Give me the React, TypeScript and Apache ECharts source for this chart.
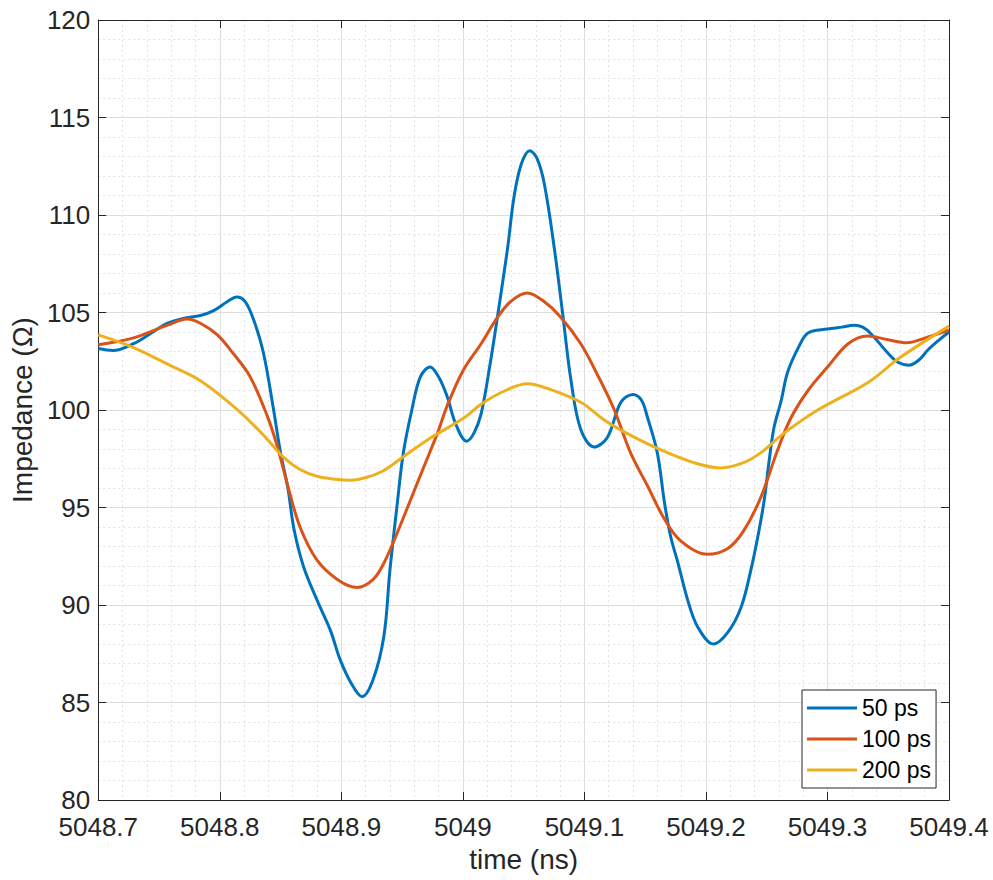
import React, { useEffect, useRef } from "react";
import * as echarts from "echarts";

const seriesNames = ["50 ps", "100 ps", "200 ps"];
const seriesColors = ["#0072BD", "#D95319", "#EDB120"];

const xMin = 5048.7;
const xMax = 5049.4;
const xStep = 0.1;
const yMin = 80;
const yMax = 120;
const yStep = 5;

const xTitle = "time (ns)";
const yTitle = "Impedance (\u03A9)";

const ps50: [number, number][] = [
  [5048.7, 103.15], [5048.712, 103.05], [5048.729, 103.4], [5048.745, 104.0],
  [5048.757, 104.45], [5048.77, 104.7], [5048.784, 104.85], [5048.795, 105.1],
  [5048.806, 105.55], [5048.814, 105.8], [5048.821, 105.55], [5048.828, 104.6],
  [5048.836, 102.9], [5048.844, 100.1], [5048.85, 97.8], [5048.856, 96.0],
  [5048.861, 93.9], [5048.869, 91.95], [5048.88, 90.25], [5048.891, 88.7],
  [5048.899, 87.2], [5048.908, 86.0], [5048.917, 85.3], [5048.926, 86.15],
  [5048.935, 88.4], [5048.94, 91.8], [5048.946, 95.2], [5048.951, 97.8],
  [5048.958, 100.0], [5048.965, 101.7], [5048.973, 102.2], [5048.98, 101.7],
  [5048.987, 100.7], [5048.994, 99.3], [5049.003, 98.4], [5049.009, 98.8],
  [5049.015, 99.8], [5049.022, 102.2], [5049.029, 105.0], [5049.037, 108.4],
  [5049.042, 110.9], [5049.048, 112.6], [5049.055, 113.3], [5049.061, 112.9],
  [5049.067, 111.6], [5049.075, 108.4], [5049.082, 105.0], [5049.089, 101.5],
  [5049.097, 99.0], [5049.108, 98.1], [5049.119, 98.6], [5049.13, 100.4],
  [5049.14, 100.8], [5049.147, 100.5], [5049.152, 99.6], [5049.16, 97.8],
  [5049.166, 95.2], [5049.171, 93.5], [5049.177, 92.15], [5049.185, 90.25],
  [5049.193, 88.9], [5049.206, 88.0], [5049.218, 88.6], [5049.229, 89.9],
  [5049.237, 91.8], [5049.243, 93.6], [5049.248, 95.4], [5049.252, 97.4],
  [5049.256, 99.1], [5049.262, 100.5], [5049.267, 101.9], [5049.276, 103.2],
  [5049.284, 103.95], [5049.3, 104.15], [5049.312, 104.25], [5049.322, 104.35],
  [5049.329, 104.25], [5049.336, 103.9], [5049.35, 102.9], [5049.358, 102.45],
  [5049.367, 102.3], [5049.375, 102.55], [5049.383, 103.1], [5049.392, 103.6],
  [5049.4, 104.0],
];

const ps100: [number, number][] = [
  [5048.7, 103.35], [5048.729, 103.7], [5048.757, 104.35], [5048.773, 104.67],
  [5048.784, 104.45], [5048.798, 103.85], [5048.811, 102.9], [5048.825, 101.7],
  [5048.839, 99.7], [5048.847, 98.2], [5048.856, 96.1], [5048.866, 94.0],
  [5048.88, 92.3], [5048.897, 91.3], [5048.913, 90.9], [5048.926, 91.3],
  [5048.935, 92.15], [5048.946, 93.7], [5048.957, 95.4], [5048.968, 97.1],
  [5048.979, 98.8], [5048.987, 100.2], [5049.0, 102.0], [5049.015, 103.4],
  [5049.029, 104.8], [5049.04, 105.6], [5049.053, 106.0], [5049.066, 105.6],
  [5049.08, 104.8], [5049.097, 103.4], [5049.11, 101.9], [5049.124, 100.1],
  [5049.138, 97.8], [5049.152, 96.1], [5049.165, 94.5], [5049.179, 93.3],
  [5049.201, 92.6], [5049.218, 92.9], [5049.231, 93.8], [5049.245, 95.5],
  [5049.259, 97.95], [5049.27, 99.6], [5049.284, 101.0], [5049.3, 102.2],
  [5049.317, 103.4], [5049.333, 103.8], [5049.35, 103.6], [5049.365, 103.45],
  [5049.383, 103.75], [5049.4, 104.1],
];

const ps200: [number, number][] = [
  [5048.7, 103.85], [5048.729, 103.2], [5048.757, 102.35], [5048.784, 101.5],
  [5048.811, 100.2], [5048.825, 99.4], [5048.839, 98.5], [5048.852, 97.6],
  [5048.866, 96.95], [5048.88, 96.6], [5048.895, 96.45], [5048.908, 96.4],
  [5048.921, 96.55], [5048.935, 96.9], [5048.951, 97.6], [5048.973, 98.55],
  [5049.001, 99.6], [5049.015, 100.3], [5049.035, 101.0], [5049.053, 101.35],
  [5049.07, 101.1], [5049.097, 100.4], [5049.116, 99.5], [5049.135, 98.8],
  [5049.163, 97.95], [5049.19, 97.3], [5049.212, 97.03], [5049.231, 97.3],
  [5049.245, 97.8], [5049.264, 98.8], [5049.292, 100.0], [5049.333, 101.4],
  [5049.36, 102.7], [5049.4, 104.3],
];

const seriesData = [ps50, ps100, ps200];

const FONT = "'Liberation Sans', Arial, Helvetica, sans-serif";
const AXIS_COLOR = "#262626";

export default function App() {
  const ref = useRef<HTMLDivElement>(null);

  useEffect(() => {
    if (!ref.current) return;
    const chart = echarts.init(ref.current, null, { renderer: "svg" });

    const xFmt = (v: number) => {
      const r = Math.round(v * 10) / 10;
      return Number.isInteger(r) ? String(r) : r.toFixed(1);
    };

    const baseAxisLine = { show: true, onZero: false, lineStyle: { color: AXIS_COLOR, width: 1 } };
    const baseTick = { show: true, inside: true, length: 8, lineStyle: { color: AXIS_COLOR, width: 1 } };

    const option: any = {
      animation: false,
      backgroundColor: "#ffffff",
      textStyle: { fontFamily: FONT },
      grid: { left: 98, right: 44, top: 20, bottom: 80, containLabel: false },
      legend: {
        orient: "vertical",
        left: 802,
        top: 690,
        padding: [6, 5, 6, 5],
        itemWidth: 50,
        itemHeight: 3,
        itemGap: 7,
        icon: "rect",
        backgroundColor: "#ffffff",
        borderColor: AXIS_COLOR,
        borderWidth: 1,
        borderRadius: 0,
        textStyle: { fontSize: 23, color: "#000000", fontFamily: FONT, lineHeight: 24 },
        data: seriesNames,
      },
      xAxis: [
        {
          type: "value",
          position: "bottom",
          min: xMin,
          max: xMax,
          interval: xStep,
          axisLine: baseAxisLine,
          axisTick: baseTick,
          axisLabel: {
            fontSize: 26,
            color: AXIS_COLOR,
            fontFamily: FONT,
            margin: 14,
            showMinLabel: true,
            showMaxLabel: true,
            formatter: xFmt,
          },
          splitLine: { show: true, lineStyle: { color: "#dedede", width: 1 } },
          minorTick: { show: false, splitNumber: 5 },
          minorSplitLine: { show: true, lineStyle: { color: "#e3e3e3", width: 1, type: [2, 3] } },
          name: xTitle,
          nameLocation: "middle",
          nameGap: 45,
          nameTextStyle: { fontSize: 28, color: AXIS_COLOR, fontFamily: FONT },
        },
        {
          type: "value",
          position: "top",
          min: xMin,
          max: xMax,
          interval: xStep,
          axisLine: baseAxisLine,
          axisTick: baseTick,
          axisLabel: { show: false },
          splitLine: { show: false },
        },
      ],
      yAxis: [
        {
          type: "value",
          position: "left",
          min: yMin,
          max: yMax,
          interval: yStep,
          axisLine: baseAxisLine,
          axisTick: baseTick,
          axisLabel: {
            fontSize: 26,
            color: AXIS_COLOR,
            fontFamily: FONT,
            margin: 8,
            showMinLabel: true,
            showMaxLabel: true,
          },
          splitLine: { show: true, lineStyle: { color: "#dedede", width: 1 } },
          minorTick: { show: false, splitNumber: 5 },
          minorSplitLine: { show: true, lineStyle: { color: "#e3e3e3", width: 1, type: [2, 3] } },
          name: yTitle,
          nameLocation: "middle",
          nameGap: 58,
          nameTextStyle: { fontSize: 28, color: AXIS_COLOR, fontFamily: FONT },
        },
        {
          type: "value",
          position: "right",
          min: yMin,
          max: yMax,
          interval: yStep,
          axisLine: baseAxisLine,
          axisTick: baseTick,
          axisLabel: { show: false },
          splitLine: { show: false },
        },
      ],
      series: seriesNames.map((name, i) => ({
        name,
        type: "line",
        xAxisIndex: 0,
        yAxisIndex: 0,
        data: seriesData[i],
        symbol: "none",
        smooth: 0.35,
        lineStyle: { width: 3, color: seriesColors[i] },
        itemStyle: { color: seriesColors[i] },
      })),
    };

    chart.setOption(option);
    return () => chart.dispose();
  }, []);

  return (
    <div
      ref={ref}
      style={{ position: "absolute", left: 0, top: 0, width: 993, height: 880, background: "#ffffff" }}
    />
  );
}
